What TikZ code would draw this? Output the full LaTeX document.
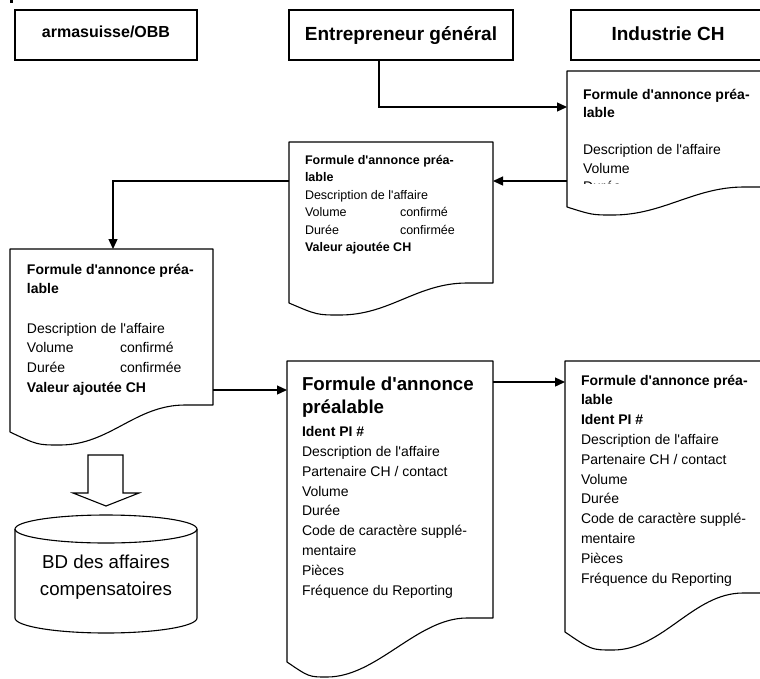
\documentclass[tikz,border=0pt]{standalone}
\usepackage{fontspec}
\setmainfont{Liberation Sans}[Ligatures=TeXOff]
\usetikzlibrary{arrows.meta,calc}
\tikzset{
  hdr/.style={draw, line width=1.1pt, inner sep=0pt, outer sep=0pt, anchor=north west, font=\bfseries},
  docframe/.style={inner sep=0pt, outer sep=0pt, anchor=north west},
  docline/.style={draw, line width=1.1pt, line join=round},
  txt/.style={anchor=north west, inner sep=0pt, outer sep=0pt, align=left},
  arr/.style={line width=1.3pt, -{Triangle[length=10pt,width=9pt]}},
}
\newcommand\docpath[5]{%
  \coordinate (#1-L) at ($(#1.south west)+(0,#2)$);
  \coordinate (#1-W) at ($(#1.south west)+(#4,#3)$);
  \coordinate (#1-F) at ($(#1.south east)+(-#5,0)$);
  \draw[docline] (#1.south east) -- (#1.north east) -- (#1.north west) -- (#1-L)
    .. controls ($(#1-W)+({-0.45*#4},0)$) .. (#1-W)
    .. controls +(50,0) and +(-50,0) .. (#1-F) -- cycle;
}
\begin{document}
\begin{tikzpicture}[x=1pt,y=-1pt]
\useasboundingbox (0,0) rectangle (760,678);
\clip (0,0) rectangle (760,678);
\fill (10,0) rectangle (12.5,2.5);

% headers
\node[hdr, minimum width=182pt, minimum height=50pt, text height=10pt, text depth=6pt,
      font=\bfseries\fontsize{16}{19}\selectfont] (arma) at (15,10) {armasuisse/OBB};
\node[hdr, minimum width=224pt, minimum height=50pt, text height=12pt, text depth=2pt,
      font=\bfseries\fontsize{19}{23}\selectfont] (eg) at (289,10) {Entrepreneur général};
\node[hdr, minimum width=194pt, minimum height=50pt, text height=12pt, text depth=2pt,
      font=\bfseries\fontsize{19}{23}\selectfont] (ind) at (571,10) {Industrie CH};

% document frames
\node[docframe, minimum width=203pt, minimum height=116pt] (d1) at (567,71) {};
\node[docframe, minimum width=204pt, minimum height=141pt] (d2) at (289,142) {};
\node[docframe, minimum width=203pt, minimum height=156pt] (d3) at (10,249) {};
\node[docframe, minimum width=206pt, minimum height=257pt] (d4) at (287,361) {};
\node[docframe, minimum width=205pt, minimum height=232pt] (d5) at (565,361) {};
\docpath{d1}{20}{28}{46}{26}
\docpath{d2}{20}{32}{51}{26}
\docpath{d3}{27}{40}{50}{28}
\docpath{d4}{44}{59}{40}{26}
\docpath{d5}{39}{57}{48}{27}

% texts
\begin{scope}
\clip (560,71) rectangle (770,183.5);
\node[txt, font=\fontsize{14}{18.5}\selectfont] (t1) at (583,85)
  {\rule{0pt}{14pt}\textbf{Formule d'annonce préa-}\\ \textbf{lable}\\[18.5pt]
   Description de l'affaire\\ Volume\\ Durée};
\end{scope}
\node[txt, font=\fontsize{12.5}{17.5}\selectfont] (t2) at (305,151.8)
  {\rule{0pt}{12.5pt}\textbf{Formule d'annonce préa-}\\ \textbf{lable}\\
   Description de l'affaire\\ \makebox[95pt][l]{Volume}confirmé\\
   \makebox[95pt][l]{Durée}confirmée\\ \textbf{Valeur ajoutée CH}};
\node[txt, font=\fontsize{14}{19.7}\selectfont] (t3) at (27,260)
  {\rule{0pt}{14pt}\textbf{Formule d'annonce préa-}\\ \textbf{lable}\\[19.7pt]
   Description de l'affaire\\ \makebox[93pt][l]{Volume}confirmé\\
   \makebox[93pt][l]{Durée}confirmée\\ \textbf{Valeur ajoutée CH}};
\node[txt, font=\bfseries\fontsize{18.7}{23.5}\selectfont] (t4a) at (302,371.3)
  {\rule{0pt}{18.7pt}Formule d'annonce\\ préalable};
\node[txt, font=\fontsize{14}{19.8}\selectfont] (t4b) at (302,422.7)
  {\rule{0pt}{14pt}\textbf{Ident PI \#}\\ Description de l'affaire\\ Partenaire CH / contact\\
   Volume\\ Durée\\ Code de caractère supplé-\\ mentaire\\ Pièces\\ Fréquence du Reporting};
\node[txt, font=\fontsize{14}{19.8}\selectfont] (t5) at (581,371)
  {\rule{0pt}{14pt}\textbf{Formule d'annonce préa-}\\ \textbf{lable}\\ \textbf{Ident PI \#}\\
   Description de l'affaire\\ Partenaire CH / contact\\
   Volume\\ Durée\\ Code de caractère supplé-\\ mentaire\\ Pièces\\ Fréquence du Reporting};

% connectors
\coordinate (c1) at (379,107);
\coordinate (c2) at (0,181);
\coordinate (c3) at (113,181);
\coordinate (c4) at (0,390);
\coordinate (c5) at (0,382);
\draw[arr] (eg.south -| c1) -- (c1) -- (c1 -| d1.west);
\draw[arr] (d1.west |- c2) -- (d2.east |- c2);
\draw[arr] (d2.west |- c3) -- (c3) -- (c3 |- d3.north);
\draw[arr] (d3.east |- c4) -- (d4.west |- c4);
\draw[arr] (d4.east |- c5) -- (d5.west |- c5);

% block arrow to database
\draw[line width=1.1pt, line join=miter] (88,455) -- (123,455) -- (123,493) -- (139,493)
  -- (106,506) -- (73,493) -- (88,493) -- cycle;

% database cylinder
\draw[line width=1.1pt] (15,529) -- (15,618) arc[start angle=180, end angle=0, x radius=91, y radius=15] -- (197,529);
\draw[line width=1.1pt] (106,529) ellipse [x radius=91, y radius=14];
\node[align=center, inner sep=0pt, font=\fontsize{18.7}{27}\selectfont] (db) at (106,577)
  {BD des affaires\\ compensatoires};
\end{tikzpicture}
\end{document}
